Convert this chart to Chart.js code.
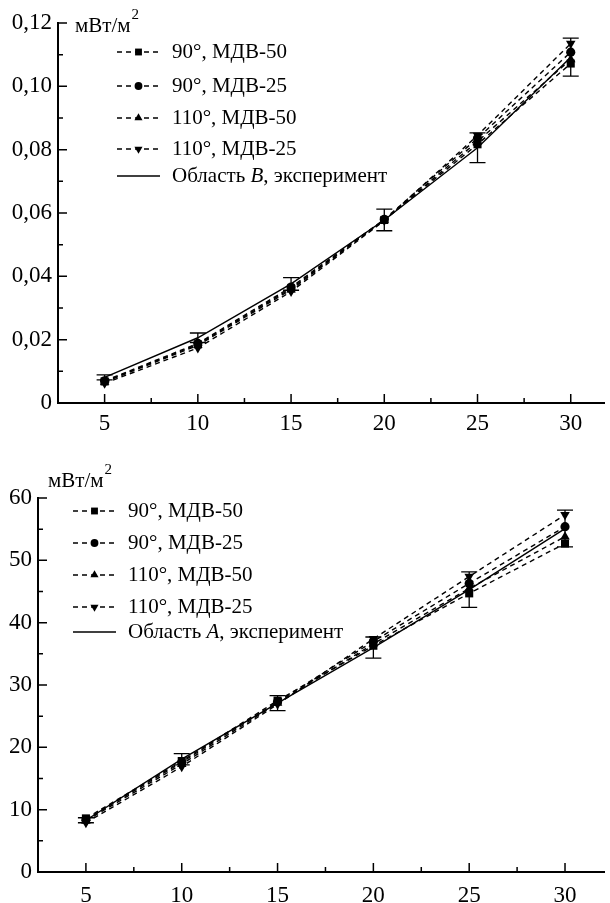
<!DOCTYPE html>
<html>
<head>
<meta charset="utf-8">
<script src="https://cdn.jsdelivr.net/npm/chart.js@4.4.0/dist/chart.umd.min.js"></script>
<style>
  html, body { margin: 0; padding: 0; background: #fff; }
  #wrap { position: relative; width: 610px; height: 903px; }
  canvas { position: absolute; left: 0; }
  #chartB { top: 0; }
  #chartA { top: 440px; }
</style>
</head>
<body>
<div id="wrap">
  <canvas id="chartB" width="610" height="440"></canvas>
  <canvas id="chartA" width="610" height="463"></canvas>
</div>
<script>
// shared x axis
const xValues = [5, 10, 15, 20, 25, 30];
const xTicks = [5, 10, 15, 20, 25, 30];
const xTickLabels = ['5', '10', '15', '20', '25', '30'];
const xMinorTicks = [7.5, 12.5, 17.5, 22.5, 27.5];

const seriesNames = ['90°, МДВ-50', '90°, МДВ-25', '110°, МДВ-50', '110°, МДВ-25'];
const unitLabel = 'мВт/м';

// upper panel - region B
const b90mdv50 = [0.0068, 0.0185, 0.0362, 0.0578, 0.0817, 0.1072];
const b90mdv25 = [0.0070, 0.0188, 0.0366, 0.0580, 0.0836, 0.1108];
const b110mdv50 = [0.0066, 0.0182, 0.0358, 0.0578, 0.0826, 0.1085];
const b110mdv25 = [0.0062, 0.0174, 0.0352, 0.0576, 0.0845, 0.1135];
const bExp = [0.0081, 0.0206, 0.0376, 0.0578, 0.0806, 0.1092];
const bExpErr = [0.0008, 0.0015, 0.0020, 0.0034, 0.0047, 0.0060];
const bExpLabel = ['Область ', 'B', ', эксперимент'];
const bYTicks = [0, 0.02, 0.04, 0.06, 0.08, 0.10, 0.12];
const bYTickLabels = ['0', '0,02', '0,04', '0,06', '0,08', '0,10', '0,12'];
const bYMinorTicks = [0.01, 0.03, 0.05, 0.07, 0.09, 0.11];

// lower panel - region A
const a90mdv50 = [8.6, 17.8, 27.5, 36.3, 44.7, 52.7];
const a90mdv25 = [8.4, 17.6, 27.3, 37.0, 46.3, 55.4];
const a110mdv50 = [8.2, 17.3, 27.1, 36.6, 45.5, 53.8];
const a110mdv25 = [7.9, 16.9, 26.9, 37.4, 47.4, 57.3];
const aExp = [8.3, 18.1, 27.1, 36.0, 45.3, 55.1];
const aExpErr = [0.4, 0.9, 1.2, 1.7, 2.85, 2.95];
const aExpLabel = ['Область ', 'A', ', эксперимент'];
const aYTicks = [0, 10, 20, 30, 40, 50, 60];
const aYTickLabels = ['0', '10', '20', '30', '40', '50', '60'];
const aYMinorTicks = [5, 15, 25, 35, 45, 55];

const FONT = '"Liberation Serif", "Times New Roman", serif';

function points(values) {
    return values.map((v, i) => ({ x: xValues[i], y: v }));
}

function dashed(label, values, style, rotation, radius) {
    return {
        label: label,
        data: points(values),
        borderColor: '#000',
        backgroundColor: '#000',
        borderWidth: 1.4,
        borderDash: [5, 4],
        pointStyle: style,
        pointRotation: rotation,
        pointRadius: radius,
        pointBorderWidth: 0,
        pointBackgroundColor: '#000',
        fill: false,
        tension: 0,
        clip: false
    };
}

function buildPanel(id, p) {
    const datasets = [
        dashed(seriesNames[0], p.s1, 'rect', 0, 5.7),
        dashed(seriesNames[1], p.s2, 'circle', 0, 4.6),
        dashed(seriesNames[2], p.s3, 'triangle', 0, 5.5),
        dashed(seriesNames[3], p.s4, 'triangle', 180, 5.5),
        {
            label: p.expLabel.join(''),
            data: points(p.exp),
            errors: p.expErr,
            borderColor: '#000',
            borderWidth: 1.4,
            pointRadius: 0,
            fill: false,
            tension: 0,
            clip: false
        }
    ];

    // inward tick marks, error bars, legend and unit label
    const extras = {
        id: 'extras',
        afterDatasetsDraw(chart) {
            const ctx = chart.ctx, xs = chart.scales.x, ys = chart.scales.y;
            const ds = chart.data.datasets[4];
            ctx.save();
            ctx.strokeStyle = '#000';
            ctx.lineWidth = 1.3;
            ctx.beginPath();
            ds.data.forEach((pt, i) => {
                const px = xs.getPixelForValue(pt.x);
                const hi = ys.getPixelForValue(pt.y + ds.errors[i]);
                const lo = ys.getPixelForValue(pt.y - ds.errors[i]);
                ctx.moveTo(px, hi); ctx.lineTo(px, lo);
                ctx.moveTo(px - 8, hi); ctx.lineTo(px + 8, hi);
                ctx.moveTo(px - 8, lo); ctx.lineTo(px + 8, lo);
            });
            ctx.stroke();
            ctx.restore();
        },
        afterDraw(chart) {
            const ctx = chart.ctx, xs = chart.scales.x, ys = chart.scales.y;
            const a = chart.chartArea;
            ctx.save();
            ctx.strokeStyle = '#000';
            ctx.lineWidth = 1.5;
            ctx.beginPath();
            xTicks.forEach(v => { const px = xs.getPixelForValue(v); ctx.moveTo(px, a.bottom); ctx.lineTo(px, a.bottom - 9); });
            xMinorTicks.forEach(v => { const px = xs.getPixelForValue(v); ctx.moveTo(px, a.bottom); ctx.lineTo(px, a.bottom - 5); });
            p.yTicks.forEach(v => { const py = ys.getPixelForValue(v); ctx.moveTo(a.left, py); ctx.lineTo(a.left + 9, py); });
            p.yMinorTicks.forEach(v => { const py = ys.getPixelForValue(v); ctx.moveTo(a.left, py); ctx.lineTo(a.left + 5, py); });
            ctx.stroke();

            // legend
            ctx.fillStyle = '#000';
            ctx.textBaseline = 'middle';
            chart.data.datasets.forEach((d, i) => {
                const y = p.legendY[i];
                const x0 = p.legendX, x1 = p.legendX + 43;
                ctx.save();
                ctx.lineWidth = d.borderWidth;
                ctx.setLineDash(d.borderDash || []);
                ctx.beginPath();
                ctx.moveTo(x0, y); ctx.lineTo(x1, y);
                ctx.stroke();
                ctx.restore();
                if (d.pointRadius > 0) {
                    Chart.helpers.drawPoint(ctx, {
                        pointStyle: d.pointStyle,
                        rotation: d.pointRotation,
                        radius: d.pointRadius * 0.85,
                        borderWidth: 0
                    }, (x0 + x1) / 2, y);
                }
                let tx = x1 + 12;
                if (i < 4) {
                    ctx.font = '21px ' + FONT;
                    ctx.fillText(d.label, tx, y);
                } else {
                    p.expLabel.forEach((part, k) => {
                        ctx.font = (k === 1 ? 'italic ' : '') + '21px ' + FONT;
                        ctx.fillText(part, tx, y);
                        tx += ctx.measureText(part).width;
                    });
                }
            });

            // unit label
            ctx.textBaseline = 'alphabetic';
            ctx.font = '21px ' + FONT;
            ctx.fillText(unitLabel, p.unitX, p.unitY);
            const w = ctx.measureText(unitLabel).width;
            ctx.font = '15px ' + FONT;
            ctx.fillText('2', p.unitX + w + 1, p.unitY - 13);
            ctx.restore();
        }
    };

    return new Chart(document.getElementById(id), {
        type: 'line',
        data: { datasets: datasets },
        options: {
            responsive: false,
            animation: false,
            events: [],
            layout: { padding: { top: p.padTop, right: p.padRight, left: 0, bottom: 0 } },
            plugins: { legend: { display: false }, tooltip: { enabled: false } },
            scales: {
                x: {
                    type: 'linear',
                    min: 2.5,
                    max: p.xMax,
                    afterBuildTicks: s => { s.ticks = xTicks.map(v => ({ value: v })); },
                    afterFit: s => { s.height = p.xAxisHeight; },
                    grid: { display: false, drawTicks: false },
                    border: { display: true, color: '#000', width: 2 },
                    ticks: {
                        color: '#000',
                        font: { family: FONT, size: 23 },
                        padding: p.xPad,
                        maxRotation: 0,
                        autoSkip: false,
                        callback: (v, i) => xTickLabels[i]
                    }
                },
                y: {
                    type: 'linear',
                    min: 0,
                    max: p.yMax,
                    afterBuildTicks: s => { s.ticks = p.yTicks.map(v => ({ value: v })); },
                    afterFit: s => { s.width = p.yAxisWidth; },
                    grid: { display: false, drawTicks: false },
                    border: { display: true, color: '#000', width: 2 },
                    ticks: {
                        color: '#000',
                        font: { family: FONT, size: 23 },
                        padding: 6,
                        autoSkip: false,
                        callback: (v, i) => p.yTickLabels[i]
                    }
                }
            }
        },
        plugins: [extras]
    });
}

document.addEventListener('DOMContentLoaded', function () {
    buildPanel('chartB', {
        s1: b90mdv50, s2: b90mdv25, s3: b110mdv50, s4: b110mdv25,
        exp: bExp, expErr: bExpErr, expLabel: bExpLabel,
        yTicks: bYTicks, yTickLabels: bYTickLabels, yMinorTicks: bYMinorTicks,
        yMax: 0.12, xMax: 31.8,
        padTop: 23, padRight: 2, yAxisWidth: 58, xAxisHeight: 37, xPad: 7,
        legendX: 117, legendY: [52, 86, 118, 149, 176],
        unitX: 75, unitY: 32
    });

    buildPanel('chartA', {
        s1: a90mdv50, s2: a90mdv25, s3: a110mdv50, s4: a110mdv25,
        exp: aExp, expErr: aExpErr, expLabel: aExpLabel,
        yTicks: aYTicks, yTickLabels: aYTickLabels, yMinorTicks: aYMinorTicks,
        yMax: 60, xMax: 32.05,
        padTop: 58, padRight: 0, yAxisWidth: 38, xAxisHeight: 31, xPad: 10,
        legendX: 73, legendY: [71, 103, 135, 167, 192],
        unitX: 48, unitY: 47
    });
});
</script>
</body>
</html>
